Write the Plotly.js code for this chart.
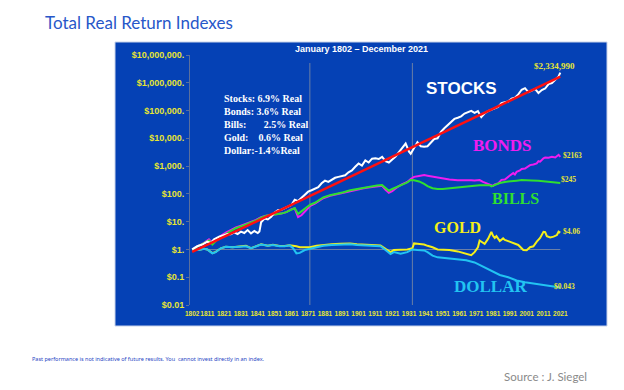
<!DOCTYPE html>
<html>
<head>
<meta charset="utf-8">
<script src="https://cdn.plot.ly/plotly-3.0.1.min.js"></script>
<style>
  html, body { margin: 0; padding: 0; background: #ffffff; }
  #chart { width: 624px; height: 390px; }
</style>
</head>
<body>
<div id="chart"></div>
<script>
// ---------------- DATA ----------------
const xTickYears = [1802,1811,1821,1831,1841,1851,1861,1871,1881,1891,1901,1911,1921,1931,1941,1951,1961,1971,1981,1991,2001,2011,2021];
const yTickVals = [0.01,0.1,1,10,100,1000,10000,100000,1000000,10000000];
const yTickText = ["$0.01","$0.1","$1.","$10.","$100.","$1,000.","$10,000.","$100,000.","$1,000,000.","$10,000,000."];

const stockYears = [1802,1805,1808,1811,1813,1815,1818,1820,1823,1825,1827,1829,1831,1833,1835,1837,1839,1841,1842,1843,1845,1847,1849,1851,1853,1855,1857,1859,1861,1863,1865,1867,1869,1871,1873,1875,1877,1879,1881,1883,1885,1887,1889,1891,1893,1895,1897,1899,1901,1903,1905,1907,1909,1911,1913,1915,1917,1919,1921,1923,1925,1927,1929,1931,1932,1934,1936,1938,1940,1942,1944,1946,1948,1950,1952,1954,1956,1958,1960,1962,1964,1966,1968,1970,1972,1974,1976,1978,1980,1982,1984,1986,1988,1990,1992,1994,1996,1998,2000,2002,2004,2006,2008,2010,2012,2014,2016,2018,2019,2020,2021];
const stockValues = [1.0,1.3,1.5,1.9,1.7,2.3,2.9,3.2,3.6,3.5,4.1,3.6,4.4,3.9,5.0,3.8,4.6,3.9,4.4,9.5,13,12,15,21,26,27,30,35,40,62,55,70,95,120,135,150,175,240,300,270,320,380,410,450,470,600,700,950,1250,1050,1600,1350,1850,1900,1800,2150,1500,1350,1700,2200,3200,4800,6500,3300,2800,4500,7200,5200,5000,5200,6800,9500,10000,17000,23000,30000,40000,50000,55000,62000,78000,90000,97000,82000,95000,58000,80000,95000,110000,120000,135000,185000,200000,210000,270000,290000,380000,560000,640000,460000,520000,600000,430000,550000,620000,900000,980000,1250000,1450000,1700000,2334990];

const bondYears = [1802,1805,1808,1811,1812,1814,1816,1819,1822,1825,1828,1831,1834,1837,1840,1843,1846,1849,1852,1855,1858,1861,1863,1865,1867,1870,1872,1875,1878,1880,1884,1888,1892,1896,1900,1904,1908,1912,1915,1917,1919,1921,1924,1927,1930,1932,1934,1937,1940,1942,1945,1948,1951,1955,1960,1965,1968,1970,1973,1975,1977,1979,1981,1982,1984,1986,1988,1991,1993,1994,1995,1997,1998,2000,2002,2003,2005,2007,2008,2009,2011,2012,2014,2016,2018,2020,2021];
const bondValues = [1.0,1.3,1.55,2.0,2.3,1.7,2.2,3.1,4.0,5.0,6.2,7.2,8.5,9.5,11.5,14.5,16.5,17.5,18.5,19.5,22,28,30,14.5,17,27,36,45,58,70,86,97,112,130,143,160,175,188,195,140,110,125,175,225,270,345,410,440,475,450,420,370,355,330,310,320,310,305,315,270,245,215,195,220,240,320,330,460,560,500,620,700,790,820,1000,1090,1150,1250,1500,1450,1900,2050,2000,2150,2050,2550,2163];

const billYears = [1802,1805,1808,1811,1812,1814,1816,1819,1822,1825,1828,1831,1834,1837,1840,1843,1846,1849,1852,1855,1858,1861,1863,1865,1867,1870,1872,1875,1878,1880,1884,1888,1892,1896,1900,1904,1908,1912,1915,1917,1919,1921,1924,1927,1930,1932,1934,1937,1940,1942,1945,1948,1951,1955,1960,1965,1970,1973,1976,1979,1980,1982,1985,1988,1991,1995,1998,2001,2004,2008,2012,2016,2019,2021];
const billValues = [1.0,1.25,1.5,1.9,2.1,1.5,2.0,2.8,3.6,4.6,5.8,6.8,8.0,9.0,11,14,16.5,17.5,18.5,19.5,22,28,31,19,24,33,40,48,62,74,90,100,115,135,150,170,185,200,207,165,130,150,185,215,260,316,310,280,230,190,160,150,150,157,165,180,195,205,200,205,185,210,245,270,290,300,316,320,305,295,275,260,255,245];

const goldYears = [1802,1806,1809,1811,1814,1816,1819,1822,1826,1830,1834,1837,1840,1843,1847,1850,1854,1857,1860,1862,1864,1866,1869,1872,1876,1880,1885,1890,1896,1900,1905,1910,1914,1917,1920,1922,1926,1930,1933,1934,1936,1940,1942,1945,1948,1951,1955,1960,1965,1968,1970,1972,1973,1975,1976,1978,1979,1980,1981,1982,1983,1985,1987,1988,1990,1993,1996,1999,2001,2003,2005,2007,2009,2011,2012,2013,2015,2017,2019,2020,2021];
const goldValues = [1.0,0.97,1.05,1.0,0.74,0.82,1.1,1.25,1.2,1.25,1.35,1.12,1.32,1.52,1.37,1.47,1.32,1.32,1.42,1.4,1.3,1.2,1.2,1.2,1.35,1.45,1.55,1.6,1.65,1.55,1.5,1.4,1.4,1.05,0.8,0.95,0.95,1.0,1.1,1.65,1.6,1.5,1.35,1.2,1.0,1.0,0.95,0.85,0.72,0.62,0.8,1.2,2.1,1.7,1.6,2.4,3.3,4.3,3.1,2.6,3.0,2.0,2.5,2.2,2.0,1.7,1.45,0.95,0.93,1.2,1.3,1.9,2.6,4.3,4.2,3.0,2.7,2.9,3.3,4.4,4.06];

const dollarYears = [1802,1806,1809,1811,1814,1816,1819,1822,1826,1830,1834,1837,1840,1843,1847,1850,1854,1857,1860,1862,1864,1866,1869,1872,1876,1880,1885,1890,1896,1900,1905,1910,1914,1917,1920,1922,1926,1930,1933,1936,1940,1942,1945,1948,1951,1955,1960,1965,1970,1975,1977,1980,1985,1990,1995,2000,2005,2010,2015,2021];
const dollarValues = [1.0,0.95,1.05,1.0,0.72,0.8,1.1,1.25,1.2,1.25,1.3,1.1,1.3,1.5,1.35,1.45,1.3,1.3,1.4,1.1,0.72,0.75,0.95,1.05,1.2,1.35,1.45,1.5,1.55,1.45,1.4,1.3,1.3,0.95,0.68,0.8,0.7,0.8,1.0,0.95,0.92,0.8,0.6,0.52,0.5,0.47,0.44,0.41,0.34,0.24,0.21,0.16,0.12,0.1,0.076,0.066,0.059,0.052,0.048,0.043];

const trendYears = [1802, 2021];
const trendValues = [0.81, 1660000];

const panelTitle = "January 1802 \u2013 December 2021";
const pageTitle = "Total Real Return Indexes";
const statsLines = ["Stocks: 6.9% Real", "Bonds: 3.6% Real", "Bills:\u00a0\u00a0\u00a0\u00a0\u00a0\u00a0 2.5% Real", "Gold:\u00a0\u00a0\u00a0 0.6% Real", "Dollar:-1.4%Real"];
const seriesNames = ["STOCKS", "BONDS", "BILLS", "GOLD", "DOLLAR"];
const endLabels = ["$2,334,990", "$2163", "$245", "$4.06", "$0.043"];
const footnote = "Past performance is not indicative of future results. You\u00a0 cannot invest directly in an index.";
const sourceText = "Source : J. Siegel";
const markerYears = [1872, 1933];

// ---------------- LAYOUT HELPERS ----------------
const W = 624, H = 390;
const M = {l: 190, r: 59, t: 55, b: 85};
const PW = W - M.l - M.r, PH = H - M.t - M.b;
const px = x => (x - M.l) / PW;
const py = y => (H - M.b - y) / PH;

const YEL = '#e8e632';
const C = {stock:'#ffffff', bond:'#f01cf0', bill:'#2fe02f', gold:'#f4ef1a', dollar:'#22c4f2', trend:'#ff1010'};
const GRAY = '#6b7fa6';

function ann(text, x, y, font, xanchor) {
  return {text: text, xref:'paper', yref:'paper', x: px(x), y: py(y),
          xanchor: xanchor || 'center', yanchor:'middle', showarrow:false,
          font: font, align:'left'};
}
const serif = (size, color) => ({family:'Liberation Serif', size:size, color:color, weight:'bold'});

function line(xs, ys, color, width) {
  return {x: xs, y: ys, type:'scatter', mode:'lines', line:{color:color, width:width}, hoverinfo:'skip'};
}

const traces = [
  line(goldYears, goldValues, C.gold, 2),
  line(dollarYears, dollarValues, C.dollar, 2),
  line(bondYears, bondValues, C.bond, 2),
  line(billYears, billValues, C.bill, 2),
  line(stockYears, stockValues, C.stock, 2),
  line(trendYears, trendValues, C.trend, 2.5)
];

const layout = {
  width: W, height: H,
  margin: {l: M.l, r: M.r, t: M.t, b: M.b, pad: 0},
  paper_bgcolor: '#ffffff',
  plot_bgcolor: 'rgba(0,0,0,0)',
  showlegend: false,
  xaxis: {
    range: [1800.7, 2023.8], tickmode:'array', tickvals: xTickYears, ticktext: xTickYears.map(String),
    tickfont: {family:'Liberation Sans', size:6.5, color:YEL, weight:'bold'},
    showgrid:false, zeroline:false, showline:false, ticks:'', tickangle:0, fixedrange:true,
    ticklabelstandoff: 3
  },
  yaxis: {
    type:'log', range:[-2, 7], tickmode:'array', tickvals: yTickVals, ticktext: yTickText,
    tickfont: {family:'Liberation Sans', size:9, color:YEL, weight:'bold'},
    showgrid:false, zeroline:false, showline:true, linecolor:'#5b6f9c', linewidth:1,
    ticks:'outside', ticklen:3, tickcolor:'#5b6f9c', fixedrange:true
  },
  shapes: [
    {type:'rect', xref:'paper', yref:'paper', x0: px(115), x1: px(607), y0: py(326), y1: py(42),
     fillcolor:'#0541b5', line:{color:'#c8d3ea', width:1}, layer:'below'},
    {type:'line', xref:'x', yref:'paper', x0: 1802, x1: 2021, y0: py(249.5), y1: py(249.5),
     line:{color:GRAY, width:1}, layer:'below'},
    {type:'line', xref:'x', yref:'paper', x0: markerYears[0], x1: markerYears[0], y0: 0, y1: py(63),
     line:{color:GRAY, width:1}, layer:'below'},
    {type:'line', xref:'x', yref:'paper', x0: markerYears[1], x1: markerYears[1], y0: 0, y1: py(63),
     line:{color:GRAY, width:1}, layer:'below'}
  ],
  annotations: [
    ann(pageTitle, 43, 22, {family:'Lato', size:17, color:'#2757c9'}, 'left'),
    ann(panelTitle, 361, 49, {family:'Liberation Sans', size:9, color:'#ffffff', weight:'bold'}),
    ann(statsLines.join('<br>'), 222, 124, serif(10, '#ffffff'), 'left'),
    ann(seriesNames[0], 461, 88, {family:'Liberation Sans', size:17, color:'#ffffff', weight:'bold'}),
    ann(seriesNames[1], 502, 145, serif(17, '#f01cf0')),
    ann(seriesNames[2], 515, 198, serif(16, '#2fe02f')),
    ann(seriesNames[3], 457, 227, serif(16, '#f4ef1a')),
    ann(seriesNames[4], 490, 286, serif(17, '#22c4f2')),
    ann(endLabels[0], 554, 66, serif(9, YEL)),
    ann(endLabels[1], 572, 155, serif(7.5, YEL)),
    ann(endLabels[2], 568, 179, serif(7.5, YEL)),
    ann(endLabels[3], 571, 231, serif(7.5, YEL)),
    ann(endLabels[4], 564, 286, serif(7.5, YEL)),
    ann(footnote, 30, 359, {family:'Noto Sans', size:5.5, color:'#1f45c4'}, 'left'),
    ann(sourceText, 545, 376, {family:'Lato', size:11.5, color:'#8a8a8a'})
  ]
};

Plotly.newPlot('chart', traces, layout, {staticPlot:true, displayModeBar:false});
</script>
</body>
</html>
